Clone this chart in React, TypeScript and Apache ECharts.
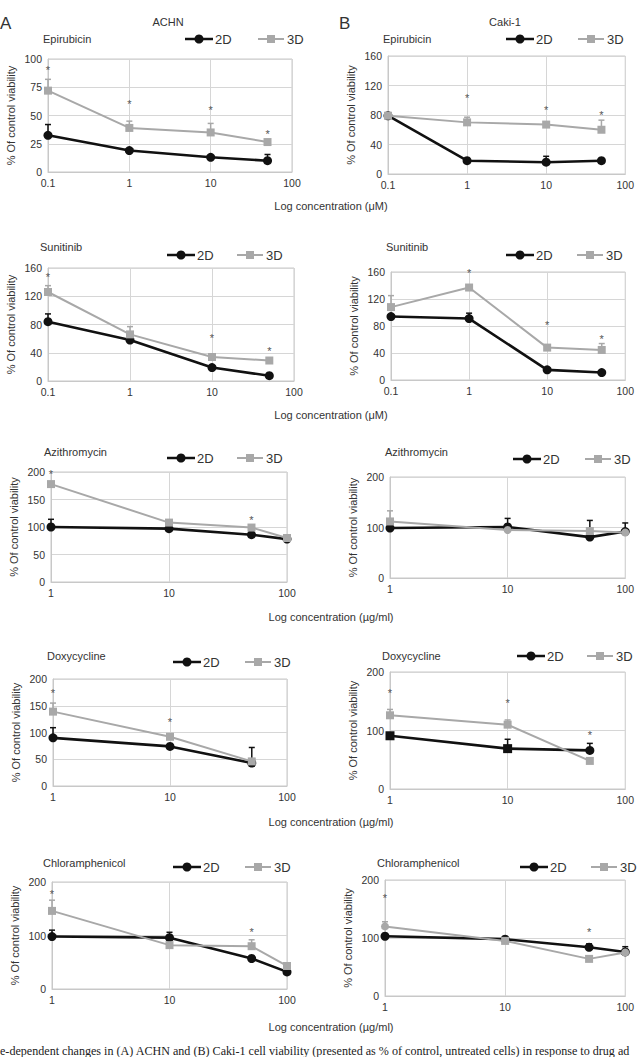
import React, { useEffect, useRef } from 'react';
import * as echarts from 'echarts';

// ---------- DATA ----------
const concMicroM = [0.1, 1, 10, 50];
const concAntibiotic = [1, 10, 50, 100];
const concDoxy = [1, 10, 50];

// Epirubicin
const epiACHN2D = [32.5, 19, 13, 10];
const epiACHN3D = [72, 39, 35, 26.5];
const epiACHN2DErr = [42, null, null, 15.5];
const epiACHN3DErr = [82, 45, 43, null];
const epiACHNSig = [92, 62, 57, 35];

const epiCaki2D = [79, 18, 16, 18];
const epiCaki3D = [79, 70, 67, 60];
const epiCaki2DErr = [null, null, 24, null];
const epiCaki3DErr = [null, 77, null, 73];
const epiCakiSig = [null, 106, 89, 83];

// Sunitinib
const sunACHN2D = [84, 58, 19, 7.5];
const sunACHN3D = [126, 66, 34, 29];
const sunACHN2DErr = [95, null, null, null];
const sunACHN3DErr = [135, 77, null, null];
const sunACHNSig = [150, null, 64, 45];

const sunCaki2D = [94, 91, 15, 11];
const sunCaki3D = [108, 137, 48, 44.5];
const sunCaki2DErr = [null, 99, null, null];
const sunCaki3DErr = [125, null, null, 54];
const sunCakiSig = [null, 161, 85, 64];

// Azithromycin
const aziACHN2D = [100, 97, 86, 78];
const aziACHN3D = [178, 108, 99, 80];
const aziACHN2DErr = [114, null, null, null];
const aziACHN3DErr = [null, null, null, null];
const aziACHNSig = [200, null, 116, null];

const aziCaki2D = [99, 101, 81, 92];
const aziCaki3D = [112, 95, 93, 90];
const aziCaki2DErr = [null, 118, 114, 109];
const aziCaki3DErr = [133, null, null, null];
const aziCakiSig = [null, null, null, null];

// Doxycycline
const doxyACHN2D = [90, 74, 43];
const doxyACHN3D = [139, 92, 46];
const doxyACHN2DErr = [109, null, 72];
const doxyACHN2DErrLow = [null, null, 37];
const doxyACHN3DErr = [155, null, null];
const doxyACHNSig = [178, 124, null];

const doxyCaki2D = [91, 69, 66];
const doxyCaki3D = [126, 110, 48];
const doxyCaki2DErr = [null, 85, 78];
const doxyCaki3DErr = [136, 118, null];
const doxyCakiSig = [168, 151, 96];

// Chloramphenicol
const chlACHN2D = [98, 96, 57, 32];
const chlACHN3D = [146, 82, 80, 43];
const chlACHN2DErr = [110, 106, null, null];
const chlACHN3DErr = [166, null, 92, null];
const chlACHNSig = [182, null, 110, null];

const chlCaki2D = [103, 98, 84, 76];
const chlCaki3D = [120, 95, 64, 75];
const chlCaki2DErr = [null, null, 90, 85];
const chlCaki3DErr = [128, null, null, null];
const chlCakiSig = [172, null, 113, null];

const xTitleMicroM = 'Log concentration (\u03bcM)';
const xTitleAntibiotic = 'Log concentration (\u00b5g/ml)';
const yTitle = '% Of control viability';
const caption =
  'e-dependent changes in (A) ACHN and (B) Caki-1 cell viability (presented as % of control, untreated cells) in response to drug ad';

// ---------- LAYOUT ----------
const FONT = 'Liberation Sans, Arial, Helvetica, sans-serif';
const TEXT = '#333';
const BLACK = '#111';
const GRAY = '#a8a8a8';
const STAR = '#555';
const BORDER = '#c8c8c8';
const SPLIT = '#d6d6d6';

type Panel = {
  name: string;
  box: [number, number, number, number]; // left, top, right, bottom
  xMin: number;
  xMax: number;
  yMax: number;
  yInterval: number;
  conc: number[];
  d2: number[];
  d3: number[];
  e2: (number | null)[];
  e2Low?: (number | null)[];
  e3: (number | null)[];
  sig: (number | null)[];
  sym2?: string[];
  sym3?: string[];
  titlePos: [number, number];
  legend: [number, number, number]; // x2D, x3D, y
};

const panels: Panel[] = [
  { name: 'Epirubicin', box: [48, 59, 292, 172], xMin: 0.1, xMax: 100, yMax: 100, yInterval: 25, conc: concMicroM,
    d2: epiACHN2D, d3: epiACHN3D, e2: epiACHN2DErr, e3: epiACHN3DErr, sig: epiACHNSig, titlePos: [43, 39], legend: [185, 258, 39] },
  { name: 'Epirubicin', box: [388, 56, 630, 174], xMin: 0.1, xMax: 100, yMax: 160, yInterval: 40, conc: concMicroM,
    d2: epiCaki2D, d3: epiCaki3D, e2: epiCaki2DErr, e3: epiCaki3DErr, sig: epiCakiSig, titlePos: [383, 39], legend: [506, 578, 39] },
  { name: 'Sunitinib', box: [48, 268, 294, 381], xMin: 0.1, xMax: 100, yMax: 160, yInterval: 40, conc: concMicroM,
    d2: sunACHN2D, d3: sunACHN3D, e2: sunACHN2DErr, e3: sunACHN3DErr, sig: sunACHNSig, titlePos: [40, 247], legend: [167, 237, 255] },
  { name: 'Sunitinib', box: [391, 272, 629, 380], xMin: 0.1, xMax: 100, yMax: 160, yInterval: 40, conc: concMicroM,
    d2: sunCaki2D, d3: sunCaki3D, e2: sunCaki2DErr, e3: sunCaki3DErr, sig: sunCakiSig, titlePos: [386, 247], legend: [506, 577, 255] },
  { name: 'Azithromycin', box: [51, 472, 287, 582], xMin: 1, xMax: 100, yMax: 200, yInterval: 50, conc: concAntibiotic,
    d2: aziACHN2D, d3: aziACHN3D, e2: aziACHN2DErr, e3: aziACHN3DErr, sig: aziACHNSig, titlePos: [44, 452], legend: [167, 237, 458] },
  { name: 'Azithromycin', box: [390, 477, 626, 578], xMin: 1, xMax: 100, yMax: 200, yInterval: 100, conc: concAntibiotic,
    d2: aziCaki2D, d3: aziCaki3D, e2: aziCaki2DErr, e3: aziCaki3DErr, sig: aziCakiSig, titlePos: [385, 452], legend: [513, 585, 459],
    sym3: ['rect', 'circle', 'rect', 'circle'] },
  { name: 'Doxycycline', box: [53, 679, 287, 786], xMin: 1, xMax: 100, yMax: 200, yInterval: 50, conc: concDoxy,
    d2: doxyACHN2D, d3: doxyACHN3D, e2: doxyACHN2DErr, e2Low: doxyACHN2DErrLow, e3: doxyACHN3DErr, sig: doxyACHNSig, titlePos: [47, 656], legend: [173, 245, 662] },
  { name: 'Doxycycline', box: [390, 672, 631, 789], xMin: 1, xMax: 100, yMax: 200, yInterval: 100, conc: concDoxy,
    d2: doxyCaki2D, d3: doxyCaki3D, e2: doxyCaki2DErr, e3: doxyCaki3DErr, sig: doxyCakiSig, titlePos: [382, 656], legend: [517, 587, 656],
    sym2: ['rect', 'rect', 'circle'] },
  { name: 'Chloramphenicol', box: [52, 882, 287, 989], xMin: 1, xMax: 100, yMax: 200, yInterval: 100, conc: concAntibiotic,
    d2: chlACHN2D, d3: chlACHN3D, e2: chlACHN2DErr, e3: chlACHN3DErr, sig: chlACHNSig, titlePos: [43, 863], legend: [173, 245, 867] },
  { name: 'Chloramphenicol', box: [385, 880, 633, 996], xMin: 1, xMax: 100, yMax: 200, yInterval: 100, conc: concAntibiotic,
    d2: chlCaki2D, d3: chlCaki3D, e2: chlCaki2DErr, e3: chlCaki3DErr, sig: chlCakiSig, titlePos: [377, 863], legend: [520, 591, 867],
    sym3: ['circle', 'rect', 'rect', 'circle'] },
];

const xTitles: [string, number][] = [
  [xTitleMicroM, 206],
  [xTitleMicroM, 415],
  [xTitleAntibiotic, 617],
  [xTitleAntibiotic, 822],
  [xTitleAntibiotic, 1027],
];

function fmtLog(v: number) {
  return v < 1 ? String(+v.toFixed(1)) : String(Math.round(v));
}

function txt(x: number, y: number, text: string, size: number, align = 'left', extra: any = {}) {
  return {
    type: 'text', x, y, z: 10, ...extra,
    style: { text, fill: TEXT, fontSize: size, fontFamily: FONT, align, verticalAlign: 'middle' },
  };
}

function legendEls(x2: number, x3: number, y: number) {
  return [
    { type: 'line', z: 10, shape: { x1: x2, y1: y, x2: x2 + 28, y2: y }, style: { stroke: BLACK, lineWidth: 2.5 } },
    { type: 'circle', z: 11, shape: { cx: x2 + 14, cy: y, r: 4.5 }, style: { fill: BLACK } },
    txt(x2 + 30, y, '2D', 13),
    { type: 'line', z: 10, shape: { x1: x3, y1: y, x2: x3 + 26, y2: y }, style: { stroke: GRAY, lineWidth: 2 } },
    { type: 'rect', z: 11, shape: { x: x3 + 9, y: y - 4, width: 8, height: 8 }, style: { fill: GRAY } },
    txt(x3 + 29, y, '3D', 13),
  ];
}

function errorSeries(i: number, p: Panel, errs: (number | null)[], vals: number[], color: string, lows?: (number | null)[]) {
  const data: number[][] = [];
  errs.forEach((hi, k) => {
    const lo = lows && lows[k] != null ? (lows[k] as number) : vals[k];
    if (hi != null) data.push([p.conc[k], vals[k], hi, lo]);
  });
  return {
    type: 'custom',
    xAxisIndex: i,
    yAxisIndex: i,
    z: 2,
    silent: true,
    itemStyle: { color },
    encode: { x: 0, y: [1, 2, 3] },
    data,
    renderItem: (_params: any, api: any) => {
      const x = api.value(0);
      const hi = api.value(2);
      const lo = api.value(3);
      const ph = api.coord([x, hi]);
      const pl = api.coord([x, lo]);
      const cap = 3;
      const children: any[] = [
        { type: 'line', shape: { x1: ph[0], y1: pl[1], x2: ph[0], y2: ph[1] }, style: { stroke: color, lineWidth: 1.5 } },
        { type: 'line', shape: { x1: ph[0] - cap, y1: ph[1], x2: ph[0] + cap, y2: ph[1] }, style: { stroke: color, lineWidth: 1.5 } },
      ];
      if (lo < api.value(1)) {
        children.push({ type: 'line', shape: { x1: pl[0] - cap, y1: pl[1], x2: pl[0] + cap, y2: pl[1] }, style: { stroke: color, lineWidth: 1.5 } });
      }
      return { type: 'group', children };
    },
  };
}

function sigSeries(i: number, p: Panel) {
  const data: number[][] = [];
  p.sig.forEach((v, k) => {
    if (v != null) data.push([p.conc[k], v]);
  });
  return {
    type: 'custom',
    xAxisIndex: i,
    yAxisIndex: i,
    z: 5,
    silent: true,
    clip: false,
    itemStyle: { color: STAR },
    encode: { x: 0, y: 1 },
    data,
    renderItem: (_params: any, api: any) => {
      const pt = api.coord([api.value(0), api.value(1)]);
      return {
        type: 'text',
        x: pt[0],
        y: pt[1] + 2,
        style: { text: '*', fill: STAR, fontSize: 11, fontFamily: FONT, align: 'center', verticalAlign: 'middle' },
      };
    },
  };
}

function buildOption() {
  const grid: any[] = [];
  const xAxis: any[] = [];
  const yAxis: any[] = [];
  const series: any[] = [];
  const graphic: any[] = [];

  panels.forEach((p, i) => {
    const [l, t, r, b] = p.box;
    grid.push({ left: l, top: t, width: r - l, height: b - t, show: true, borderColor: BORDER, borderWidth: 1, containLabel: false });
    xAxis.push({
      type: 'log', logBase: 10, gridIndex: i, min: p.xMin, max: p.xMax,
      axisLine: { show: true, lineStyle: { color: BORDER, width: 1 } },
      axisTick: { show: false },
      splitLine: { show: true, lineStyle: { color: SPLIT, width: 1 } },
      axisLabel: { color: TEXT, fontSize: 10.5, fontFamily: FONT, margin: 5, formatter: fmtLog },
    });
    yAxis.push({
      type: 'value', gridIndex: i, min: 0, max: p.yMax, interval: p.yInterval,
      axisLine: { show: true, lineStyle: { color: BORDER, width: 1 } },
      axisTick: { show: false },
      splitLine: { show: true, lineStyle: { color: SPLIT, width: 1 } },
      axisLabel: { color: TEXT, fontSize: 10.5, fontFamily: FONT, margin: 6 },
    });

    series.push(errorSeries(i, p, p.e2, p.d2, BLACK, p.e2Low));
    series.push(errorSeries(i, p, p.e3, p.d3, GRAY));
    series.push({
      type: 'line', name: '2D', xAxisIndex: i, yAxisIndex: i, z: 3,
      data: p.d2.map((v, k) => (p.sym2 ? { value: [p.conc[k], v], symbol: p.sym2[k] } : [p.conc[k], v])),
      symbol: 'circle', symbolSize: 9,
      lineStyle: { color: BLACK, width: 2.6 }, itemStyle: { color: BLACK },
    });
    series.push({
      type: 'line', name: '3D', xAxisIndex: i, yAxisIndex: i, z: 4,
      data: p.d3.map((v, k) => (p.sym3 ? { value: [p.conc[k], v], symbol: p.sym3[k] } : [p.conc[k], v])),
      symbol: 'rect', symbolSize: 8,
      lineStyle: { color: GRAY, width: 2 }, itemStyle: { color: GRAY },
    });
    series.push(sigSeries(i, p));

    graphic.push(txt(p.titlePos[0], p.titlePos[1], p.name, 11));
    graphic.push(...legendEls(p.legend[0], p.legend[1], p.legend[2]));
    graphic.push(txt(l - 37, (t + b) / 2, yTitle, 11, 'center', { rotation: Math.PI / 2 }));
  });

  graphic.push(txt(168, 22, 'ACHN', 11, 'center'));
  graphic.push(txt(505, 22, 'Caki-1', 11, 'center'));
  graphic.push(txt(0, 23, 'A', 17));
  graphic.push(txt(339, 23, 'B', 17));
  xTitles.forEach(([s, y]) => graphic.push(txt(331, y, s, 11, 'center')));
  graphic.push({
    type: 'text', x: 0, y: 1051, z: 10,
    style: { text: caption, fill: '#222', fontSize: 12.1, fontFamily: 'Liberation Serif, Times New Roman, serif', align: 'left', verticalAlign: 'middle' },
  });

  return { animation: false, backgroundColor: '#fff', grid, xAxis, yAxis, series, graphic };
}

export default function App() {
  const ref = useRef<HTMLDivElement>(null);
  useEffect(() => {
    if (!ref.current) return;
    const chart = echarts.init(ref.current, undefined, { renderer: 'svg' });
    chart.setOption(buildOption() as any);
    return () => chart.dispose();
  }, []);
  return (
    <div
      ref={ref}
      style={{ position: 'absolute', left: 0, top: 0, width: 637, height: 1057, background: '#fff' }}
    />
  );
}
